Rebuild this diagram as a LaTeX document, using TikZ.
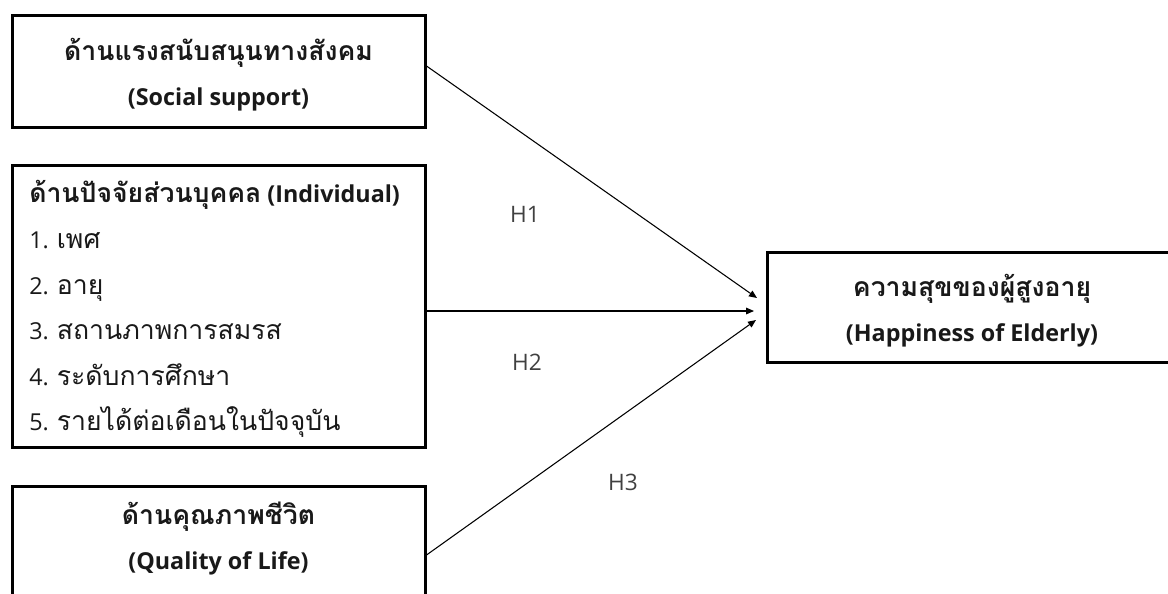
\documentclass[tikz,border=0pt]{standalone}
\usepackage{fontspec}
\setmainfont{Open Sans}
\newfontfamily\thaifont[Script=Thai,Scale=1.14]{Loma}
\usetikzlibrary{arrows.meta,calc}
\newcommand{\tth}[1]{{\thaifont #1}}
\begin{document}
\begin{tikzpicture}[x=0.75pt,y=-0.75pt,
  every node/.style={font=\fontsize{17.5pt}{33.75pt}\selectfont, text=black!90},
  box/.style={draw, line width=2.25pt, inner sep=0pt},
  boldtxt/.style={font=\fontsize{17.5pt}{33.75pt}\selectfont\bfseries, align=center},
  itemtxt/.style={anchor=base west, inner sep=0pt},
  hlabel/.style={text=black!75, font=\fontsize{17pt}{20pt}\selectfont},
  link/.style={line width=0.8pt, -{Triangle[length=6pt,width=5pt]}}]
\useasboundingbox (0,0) rectangle (1168,593);
\clip (0,0) rectangle (1168,593);
\fill[white] (0,0) rectangle (1168,593);
% boxes
\node[box, minimum width=309.75pt, minimum height=84pt] (social) at (218.5,71) {};
\node[boldtxt] (socialtxt) at (218.5,75) {\tth{ด้านแรงสนับสนุนทางสังคม}\\(Social support)};
\node[box, minimum width=309.75pt, minimum height=211.5pt] (indiv) at (218.5,306) {};
\node[box, minimum width=309.75pt, minimum height=93pt] (qol) at (218.5,548) {};
\node[boldtxt] (qoltxt) at (218.5,539) {\tth{ด้านคุณภาพชีวิต}\\(Quality of Life)};
\node[box, minimum width=322.5pt, minimum height=82.5pt] (happy) at (982,307) {};
\node[boldtxt] (happytxt) at (972,311) {\tth{ความสุขของผู้สูงอายุ}\\(Happiness of Elderly)};
% individual box lines
\node[itemtxt, font=\fontsize{17.5pt}{20pt}\selectfont\bfseries] (ititle) at (29,202) {\tth{ด้านปัจจัยส่วนบุคคล} (Individual)};
\node[itemtxt] (i1) at (29,248) {1. \tth{เพศ}};
\node[itemtxt] (i2) at (29,294) {2. \tth{อายุ}};
\node[itemtxt] (i3) at (29,339) {3. \tth{สถานภาพการสมรส}};
\node[itemtxt] (i4) at (29,385) {4. \tth{ระดับการศึกษา}};
\node[itemtxt] (i5) at (29,430) {5. \tth{รายได้ต่อเดือนในปัจจุบัน}};
% arrow targets
\coordinate (t1) at (757,298);
\coordinate (t2) at (754,311);
\coordinate (t3) at (756,320);
\draw[link] ($(social.east)+(0,-5)$) -- (t1);
\draw[link] ($(indiv.east)+(0,5)$) -- (t2);
\draw[link] ($(qol.east)+(0,7)$) -- (t3);
% labels
\node[hlabel] (h1) at (525,214) {H1};
\node[hlabel] (h2) at (527,362) {H2};
\node[hlabel] (h3) at (623,482) {H3};
\end{tikzpicture}
\end{document}
